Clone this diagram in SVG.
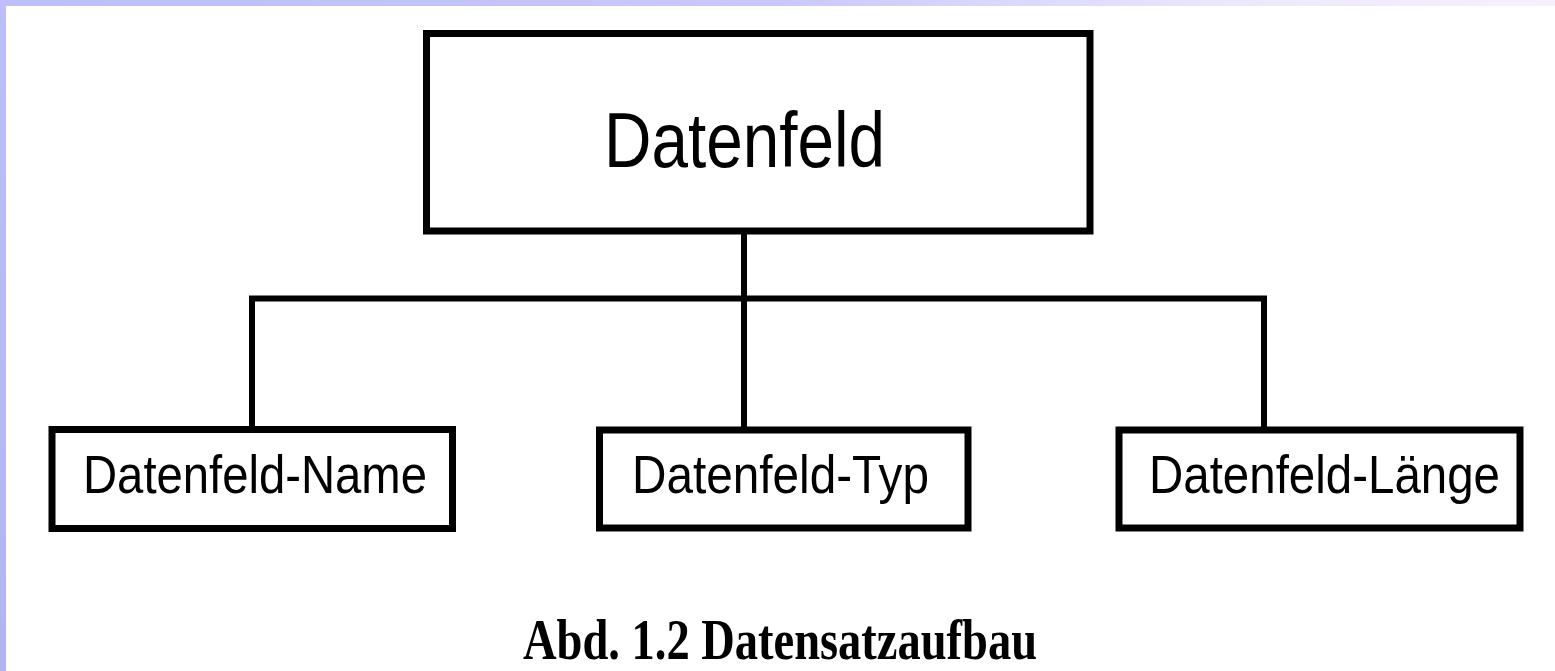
<svg xmlns="http://www.w3.org/2000/svg" width="1555" height="671" viewBox="0 0 1555 671">
  <defs>
    <linearGradient id="topbar" x1="0" y1="0" x2="1" y2="0">
      <stop offset="0" stop-color="#bebefa"/>
      <stop offset="0.5" stop-color="#c8c8fc"/>
      <stop offset="0.8" stop-color="#ece8fc"/>
      <stop offset="1" stop-color="#f8f0fc"/>
    </linearGradient>
    <linearGradient id="leftbar" x1="0" y1="0" x2="0" y2="1">
      <stop offset="0" stop-color="#bebefa"/>
      <stop offset="1" stop-color="#b4b4f4"/>
    </linearGradient>
  </defs>
  <style>
    .box { fill: #ffffff; stroke: #000000; stroke-width: 7; }
    .conn { fill: none; stroke: #000000; stroke-width: 6; stroke-linejoin: miter; stroke-linecap: square; }
    .lbl { font-family: "Liberation Sans", Arial, sans-serif; fill: #000000; }
    .cap { font-family: "Liberation Serif", "Times New Roman", serif; font-weight: bold; fill: #000000; }
  </style>
  <rect x="0" y="0" width="1555" height="671" fill="#ffffff"/>
  <rect x="0" y="0" width="1555" height="6" fill="url(#topbar)"/>
  <rect x="0" y="0" width="6" height="671" fill="url(#leftbar)"/>

  <g id="connectors">
    <path class="conn" d="M744,231 V298.5"/>
    <path class="conn" d="M252,428 V298.5 H1264 V428"/>
    <path class="conn" d="M744,298.5 V428"/>
  </g>

  <g id="node-datenfeld">
    <rect class="box" x="426.5" y="33.5" width="663.5" height="197.5"/>
    <text class="lbl" x="604" y="166.5" font-size="78" textLength="281" lengthAdjust="spacingAndGlyphs">Datenfeld</text>
  </g>

  <g id="node-name">
    <rect class="box" x="52" y="429.5" width="400.5" height="99"/>
    <text class="lbl" x="83" y="493" font-size="53" textLength="344" lengthAdjust="spacingAndGlyphs">Datenfeld-Name</text>
  </g>

  <g id="node-typ">
    <rect class="box" x="599.5" y="430" width="368.5" height="98"/>
    <text class="lbl" x="632" y="493" font-size="53" textLength="297" lengthAdjust="spacingAndGlyphs">Datenfeld-Typ</text>
  </g>

  <g id="node-laenge">
    <rect class="box" x="1119" y="430" width="401" height="98"/>
    <text class="lbl" x="1149" y="493" font-size="53" textLength="351" lengthAdjust="spacingAndGlyphs">Datenfeld-Länge</text>
  </g>

  <g id="caption">
    <text class="cap" x="523" y="659" font-size="58" textLength="514" lengthAdjust="spacingAndGlyphs">Abd. 1.2 Datensatzaufbau</text>
  </g>
</svg>
